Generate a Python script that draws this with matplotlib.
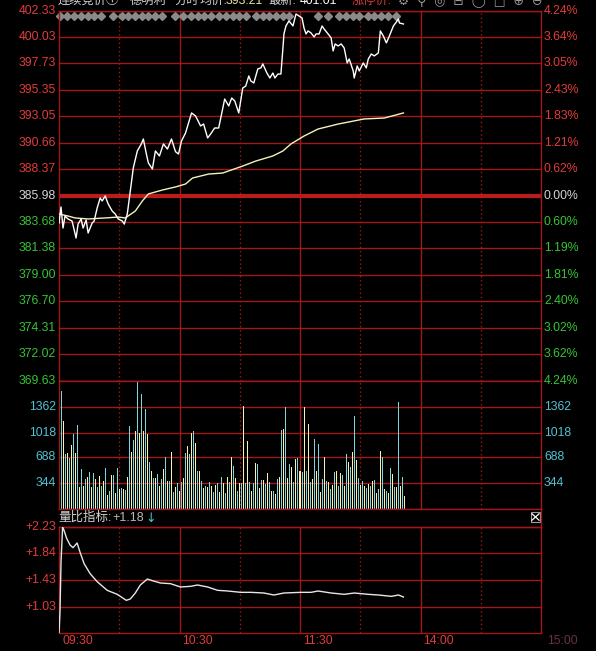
from matplotlib import pyplot as plt
import numpy as np

plt.rcParams['font.family'] = ['Liberation Sans', 'Noto Sans CJK SC', 'DejaVu Sans']

W, H = 596, 651

# price scale (left) and percent change (right)
prev_close = 385.98
price_ticks = [402.33, 400.03, 397.73, 395.35, 393.05, 390.66, 388.37, 385.98,
               383.68, 381.38, 379.00, 376.70, 374.31, 372.02, 369.63]
pct_labels = ['4.24%', '3.64%', '3.05%', '2.43%', '1.83%', '1.21%', '0.62%', '0.00%',
              '0.60%', '1.19%', '1.81%', '2.40%', '3.02%', '3.62%', '4.24%']

# price line vertices (minutes since 09:30, price)
price_min = [0, 1, 2, 3, 4.5, 6.5, 8.5, 9.5, 11, 12,
             13.5, 14.5, 16.5, 17.5, 19, 20.5, 21.5, 23, 24.5, 26.5,
             28, 29.5, 31.5, 32.5, 34, 35.5, 37, 39, 41, 42,
             43.5, 44.5, 46.5, 48, 50, 52, 54, 56, 58, 59.5,
             61, 63, 66, 68, 70.5, 72, 74, 75.5, 77.5, 79.5,
             82.5, 84.5, 86, 87.5, 89.5, 91.5, 93, 94.5, 95.5, 97,
             99, 100.5, 101.5, 103.5, 105, 106.5, 107.5, 109, 110.5, 111.5,
             112, 113, 114.5, 116.5, 118, 119.5, 121, 122, 123, 124,
             125.5, 127, 128, 129.5, 131, 132, 134, 135.5, 136.5, 137.5,
             139, 140.5, 142, 143.5, 144.5, 146.5, 147, 148.5, 149.5, 151.5,
             153, 154, 155.5, 157, 159, 160, 161.5, 163, 164.5, 166.5,
             168, 169, 169.5, 171.5]
price_val = [383.59, 385.01, 383.15, 384.21, 383.95, 383.77, 382.27, 383.50, 383.95, 383.15,
             383.86, 382.71, 383.59, 383.77, 384.92, 385.80, 385.54, 385.98, 385.27, 384.65,
             384.39, 383.95, 383.77, 383.50, 384.39, 386.42, 388.46, 389.96, 390.58, 391.02,
             389.69, 388.90, 388.37, 389.96, 389.52, 390.58, 390.13, 391.02, 389.90, 389.69,
             390.84, 391.55, 393.32, 393.05, 392.17, 392.34, 391.11, 391.46, 391.99, 391.99,
             394.55, 393.94, 394.64, 394.38, 393.32, 395.53, 395.70, 396.59, 396.15, 395.97,
             397.21, 397.30, 397.65, 396.85, 396.41, 396.85, 396.41, 396.76, 396.76, 399.06,
             400.30, 401.01, 401.45, 401.01, 402.07, 401.89, 401.72, 400.83, 400.30, 400.57,
             400.39, 400.04, 400.30, 400.30, 401.01, 400.74, 400.30, 399.95, 398.80, 399.42,
             399.24, 399.42, 399.06, 397.74, 398.09, 397.03, 396.41, 397.47, 397.03, 397.74,
             397.30, 398.09, 398.53, 398.36, 398.62, 400.57, 400.12, 399.51, 400.12, 401.01,
             401.36, 401.63, 401.27, 401.18]

# average price line
avg_min = [0, 4.5, 8, 14.5, 23, 29.5, 33, 38, 41.5, 44.5, 51.5, 58, 63, 66.5,
           74.5, 81.5, 91.5, 98, 106.5, 111.5, 115.5, 122, 129, 139, 152, 162, 171.5]
avg_val = [384.39, 384.21, 384.04, 383.95, 384.04, 384.12, 384.04, 384.65, 385.54, 386.16,
           386.51, 386.78, 387.04, 387.57, 387.92, 388.01, 388.63, 389.07, 389.52, 389.96,
           390.58, 391.28, 391.90, 392.34, 392.79, 392.87, 393.32]

# gray event diamonds along the top
marker_min = [0.5, 4, 7.5, 11, 14.5, 17.5, 21, 27, 31.5, 34.5, 38, 41.5, 44.5, 48, 51.5,
              58, 61.5, 65.5, 69, 72, 75.5, 79.5, 83, 86.5, 89.5, 93, 98, 101.5, 104.5,
              108, 111.5, 114.5, 129, 134, 139.5, 143, 146.5, 149.5, 154, 157, 160.5, 164, 168]

# per-minute volume
volume = [294, 1575, 1175, 734, 748, 681, 854, 1001, 748, 1121,
          294, 534, 307, 400, 427, 494, 294, 480, 400, 294,
          440, 307, 374, 547, 187, 240, 454, 454, 214, 547,
          267, 280, 267, 254, 427, 1108, 761, 921, 1041, 1709,
          1015, 1535, 1041, 1335, 1001, 627, 507, 414, 414, 467,
          307, 400, 534, 694, 374, 374, 761, 227, 294, 347,
          240, 360, 414, 748, 841, 734, 1015, 1041, 881, 507,
          507, 374, 280, 307, 294, 360, 307, 227, 320, 347,
          227, 427, 347, 214, 427,
          360, 694, 574, 414, 240, 347, 347, 1375, 347, 908,
          360, 240, 347, 614, 601, 280, 387, 387, 334, 480,
          360, 240, 240, 200, 400, 427, 1055, 1068, 1362, 414,
          601, 561, 360, 668, 681, 507, 494, 1362, 507, 1135,
          360, 400, 935, 507, 868, 227, 400, 694, 374, 360,
          267, 320, 494, 507, 307, 480, 454, 307, 734, 627,
          561, 761, 1242, 654, 414, 320, 374, 307, 280, 334,
          307, 374, 387, 214, 267, 774, 694, 267, 240, 214,
          547, 467, 294, 294, 1429, 307, 427, 174]
vol_ticks = [1362, 1018, 688, 344]

# volume ratio indicator
ratio_min = [0, 0.5, 1, 1.8, 2.5, 3.8, 5.5, 7, 9, 10.5,
             12.5, 15.5, 19, 24, 29, 33.5, 35.5, 38, 40.5, 44,
             47, 50.5, 55.5, 60.5, 65.5, 69, 74, 79, 84, 90.5,
             95.5, 102, 107, 112, 120.5, 125.5, 129, 135.5, 142, 147,
             154, 159, 165.5, 169, 171.5]
ratio_val = [0.63, 0.96, 1.70, 2.23, 2.18, 2.06, 1.96, 1.92, 1.99, 1.85,
             1.68, 1.53, 1.41, 1.28, 1.22, 1.13, 1.15, 1.24, 1.36, 1.45,
             1.42, 1.39, 1.38, 1.33, 1.34, 1.36, 1.33, 1.28, 1.27, 1.25,
             1.25, 1.24, 1.21, 1.24, 1.25, 1.25, 1.27, 1.24, 1.22, 1.24,
             1.22, 1.21, 1.19, 1.21, 1.18]
ratio_ticks = [2.23, 1.84, 1.43, 1.03]

time_min = [0, 60, 120, 180]
time_labels = ['09:30', '10:30', '11:30', '14:00']

GRID = '#a01818'
RED = '#e23b3b'
GREEN = '#35c435'
CYAN = '#4fc3d3'
LIGHT = '#d4d4d4'


def box(left, top, right, bottom):
    # pixel box -> figure fraction rect
    return [left / W, 1 - bottom / H, (right - left) / W, (bottom - top) / H]


def setup(ax):
    ax.set_facecolor('black')
    ax.set_xlim(0, 240)
    ax.set_xticks([])
    ax.set_yticks([])
    for s in ax.spines.values():
        s.set_color(GRID)
        s.set_linewidth(1)


def vlines(ax):
    for m in (60, 120, 180):
        ax.axvline(m, color=GRID, lw=1, zorder=1)
    for m in (30, 90, 150, 210):
        ax.axvline(m, color=GRID, lw=1, ls=(0, (1, 2)), zorder=1)


fig = plt.figure(figsize=(W / 100, H / 100), dpi=100, facecolor='black')

# ---- price panel
ax_p = fig.add_axes(box(59, 11, 541, 381))
setup(ax_p)
ax_p.set_ylim(price_ticks[-1], price_ticks[0])
vlines(ax_p)
ytr = ax_p.get_yaxis_transform()
dx = 3 / 482
for t, pct in zip(price_ticks, pct_labels):
    if t == prev_close:
        ax_p.axhline(t, color='#b81c1c', lw=3, zorder=1)
        col = LIGHT
    else:
        ax_p.axhline(t, color=GRID, lw=1, zorder=1)
        col = RED if t > prev_close else GREEN
    ax_p.text(-dx, t, f"{t:.2f}", transform=ytr, ha='right', va='center', color=col, fontsize=8.8)
    ax_p.text(1 + dx, t, pct, transform=ytr, ha='left', va='center', color=col, fontsize=8.8)

ax_p.plot(marker_min, [0.987] * len(marker_min), 'D', color='#8a8a8a', ms=4.5,
          transform=ax_p.get_xaxis_transform(), zorder=2, clip_on=False)
ax_p.plot(avg_min, avg_val, color='#f2f2b8', lw=1, zorder=3)
ax_p.plot(price_min, price_val, color='white', lw=1, zorder=4)

# ---- volume panel
ax_v = fig.add_axes(box(59, 381, 541, 509))
setup(ax_v)
ax_v.set_ylim(0, 1709)
vlines(ax_v)
vtr = ax_v.get_yaxis_transform()
for t in vol_ticks:
    ax_v.axhline(t, color=GRID, lw=1, zorder=1)
    ax_v.text(-dx, t, str(t), transform=vtr, ha='right', va='center', color=CYAN, fontsize=8.8)
    ax_v.text(1 + dx, t, str(t), transform=vtr, ha='left', va='center', color=CYAN, fontsize=8.8)
bar_colors = ['#f5f5b0' if i % 2 == 0 else '#7ad6dc' for i in range(len(volume))]
ax_v.bar(np.arange(len(volume)), volume, width=0.5, color=bar_colors, linewidth=0,
         antialiased=False, zorder=2)

# ---- label strip
ax_s = fig.add_axes(box(59, 509, 541, 527))
setup(ax_s)
ax_s.spines['left'].set_visible(False)
ax_s.set_xlim(0, 1)
ax_s.set_ylim(0, 1)
fig.text(58 / W, 1 - 518 / H, '量比指标:', color=LIGHT, fontsize=9, ha='left', va='center')
fig.text(112 / W, 1 - 518 / H, '+1.18', color='#b8b8b8', fontsize=9, ha='left', va='center')
fig.text(145 / W, 1 - 519 / H, '↓', color=CYAN, fontsize=9, ha='left', va='center',
         family=['DejaVu Sans'])
# close box
x0, x1 = 472 / 482, 481 / 482
y0, y1 = 5 / 18, 15 / 18
ax_s.plot([x0, x1, x1, x0, x0], [y0, y0, y1, y1, y0], color='#9a9a9a', lw=0.8)
ax_s.plot([x0 + 0.002, x1 - 0.002], [y0 + 0.1, y1 - 0.1], color='white', lw=0.9)
ax_s.plot([x0 + 0.002, x1 - 0.002], [y1 - 0.1, y0 + 0.1], color='white', lw=0.9)

# ---- ratio indicator panel
ax_i = fig.add_axes(box(59, 527, 541, 633))
setup(ax_i)
ax_i.set_ylim(0.64, 2.23)
vlines(ax_i)
itr = ax_i.get_yaxis_transform()
for t in ratio_ticks:
    ax_i.axhline(t, color=GRID, lw=1, zorder=1)
    ax_i.text(-dx, t, f"+{t:.2f}", transform=itr, ha='right', va='center', color=RED, fontsize=8.8)
ax_i.plot(ratio_min, ratio_val, color='#e6e6e6', lw=1, zorder=3)

xtr = ax_i.get_xaxis_transform()
for m, lab in zip(time_min, time_labels):
    ax_i.text(m + 1.5, -8 / 106, lab, transform=xtr, ha='left', va='center', color=RED, fontsize=8.8)
ax_i.text(243, -8 / 106, '15:00', transform=xtr, ha='left', va='center', color='#6a3040',
          fontsize=8.8, clip_on=False)

# ---- header (cut off by the top edge, as in the screenshot)
hy = 1 - 1 / H
header = [(58, '连续竞价①', LIGHT), (130, '德明利', LIGHT), (174, '分时', LIGHT),
          (200, '均价:', LIGHT), (226, '393.21', '#e8e8a0'), (268, '最新:', LIGHT),
          (300, '401.01', 'white'), (352, '涨停价:', RED)]
for hx, txt, col in header:
    fig.text(hx / W, hy, txt, color=col, fontsize=8.8, ha='left', va='center')
fig.text(398 / W, hy, '⚙  ⚲  ◎  ⊟  ◯  □  ⊕  ⊖', color='#9a9a9a', fontsize=9,
         ha='left', va='center', family=['DejaVu Sans'])

fig.savefig('out.png', dpi=100, facecolor='black')
